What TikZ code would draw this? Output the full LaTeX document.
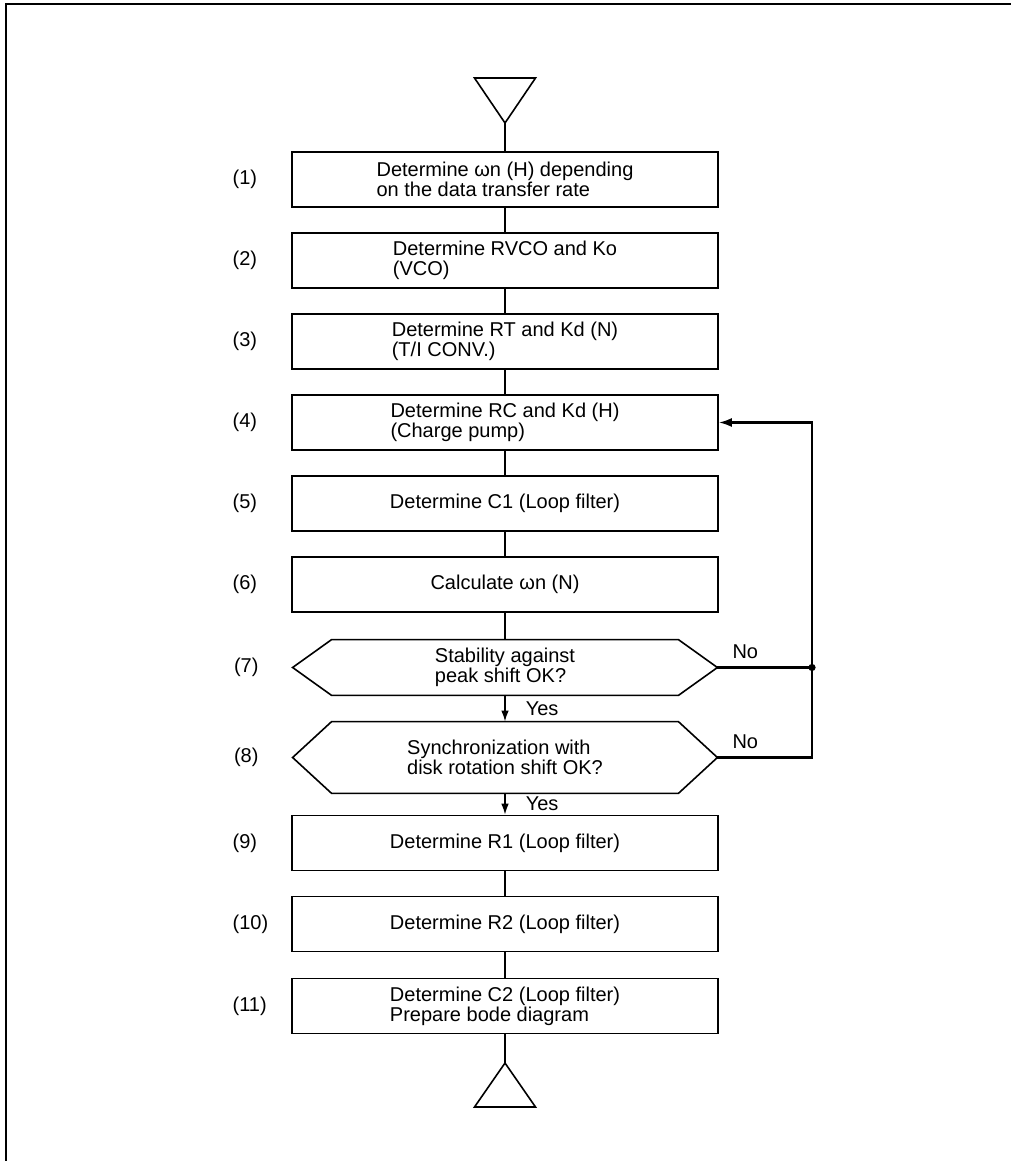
\documentclass[tikz,border=0pt]{standalone}
\usepackage{fontspec}
\setmainfont{Liberation Sans}
\usetikzlibrary{arrows.meta,calc,positioning}
\tikzset{
    flow font/.style={font=\fontsize{10}{10}\selectfont},
    flow box/.style={
        draw,
        line width=0.8pt,
        minimum width=213pt,
        minimum height=27.5pt,
        align=left,
        inner sep=0pt,
        flow font
    },
    flow check/.style={
        minimum width=212pt,
        minimum height=27.5pt,
        align=left,
        inner sep=0pt,
        flow font
    },
    flow tall check/.style={flow check, minimum height=35.5pt},
    step label/.style={anchor=west, inner sep=0pt, flow font},
    flow tag/.style={inner sep=0pt, flow font},
    flow line/.style={line width=0.8pt},
    flow arrow/.style={-{Latex[length=5.5pt,width=3.8pt]}, line width=0.8pt},
    flow back/.style={-{Latex[length=6.5pt,width=4.5pt]}, line width=1.1pt}
}

\begin{document}
\begin{tikzpicture}[x=0.5pt,y=-0.5pt]
    \useasboundingbox (0,0) rectangle (1011,1161);
    % frame of the page
    \draw[line width=1pt] (6,1161) -- (6,4) -- (1011,4);

    \node[flow box] (s1) at (505,179.5) {Determine ωn (H) depending\\on the data transfer rate};
    \node[flow box] (s2) at (505,260.5) {Determine RVCO and Ko\\(VCO)};
    \node[flow box] (s3) at (505,341.5) {Determine RT and Kd (N)\\(T/I CONV.)};
    \node[flow box] (s4) at (505,422.5) {Determine RC and Kd (H)\\(Charge pump)};
    \node[flow box] (s5) at (505,503.5) {Determine C1 (Loop filter)};
    \node[flow box] (s6) at (505,584.5) {Calculate ωn (N)};
    \node[flow check] (s7) at (505,667.5) {Stability against\\peak shift OK?};
    \node[flow tall check] (s8) at (505,757.5) {Synchronization with\\disk rotation shift OK?};
    \node[flow box] (s9) at (505,843) {Determine R1 (Loop filter)};
    \node[flow box] (s10) at (505,924) {Determine R2 (Loop filter)};
    \node[flow box] (s11) at (505,1006) {Determine C2 (Loop filter)\\Prepare bode diagram};

    % hexagon outline of the checks
    \foreach \d in {s7,s8}
        \draw[flow line] (\d.west) -- ([xshift=19.5pt]\d.north west) -- ([xshift=-19.5pt]\d.north east)
            -- (\d.east) -- ([xshift=-19.5pt]\d.south east) -- ([xshift=19.5pt]\d.south west) -- cycle;

    % step numbers
    \foreach \n in {1,...,11}
        \node[step label] (n\n) at ($(s\n.west)+(-59,0)$) {(\n)};

    % start and end marks
    \coordinate (start) at (505,123);
    \draw[flow line] (start) -- ++(-30.5,-45) -- ++(61,0) -- cycle;
    \coordinate (finish) at (505,1063);
    \draw[flow line] (finish) -- ++(-30.5,44) -- ++(61,0) -- cycle;

    \draw[flow line] (start) -- (s1);
    \foreach \a/\b in {s1/s2,s2/s3,s3/s4,s4/s5,s5/s6,s6/s7,s9/s10,s10/s11}
        \draw[flow line] (\a) -- (\b);
    \draw[flow line] (s11) -- (finish);
    \draw[flow arrow] (s7) -- node[flow tag, anchor=west, xshift=10pt] {Yes} (s8);
    \draw[flow arrow] (s8) -- node[flow tag, anchor=west, xshift=10pt] {Yes} (s9);

    % loop back to step (4)
    \coordinate (loop low) at (812,757.5);
    \coordinate (loop high) at (812,422.5);
    \draw[flow back] (s8.east) -- node[flow tag, pos=0, anchor=south west, xshift=7pt, yshift=4pt] {No} (loop low)
        -- (loop high) -- (s4.east);
    \draw[flow line, line width=1.1pt] (s7.east) -- node[flow tag, pos=0, anchor=south west, xshift=7pt, yshift=4pt] {No} (s7.east -| loop low);
    \fill (s7.east -| loop low) circle[radius=1.8pt];
\end{tikzpicture}
\end{document}
